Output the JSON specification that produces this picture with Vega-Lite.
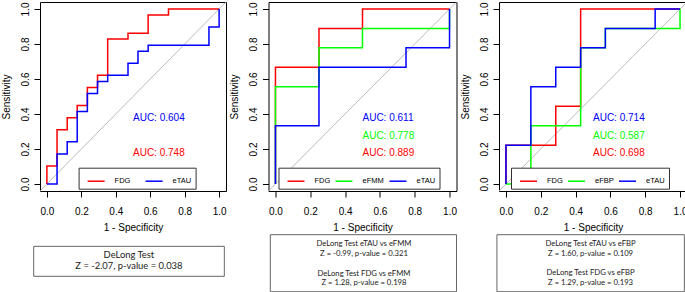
{
  "$schema": "https://vega.github.io/schema/vega-lite/v6.json",
  "background": "white",
  "padding": {"left": 0, "top": 1, "right": 0, "bottom": 0},
  "autosize": {"type": "pad"},
  "config": {
    "font": "Liberation Sans",
    "axis": {"grid": false, "domain": false, "tickColor": "black", "tickSize": 6, "tickWidth": 1, "labelFont": "Liberation Sans", "labelFontSize": 10, "labelColor": "black", "titleFont": "Liberation Sans", "titleFontSize": 10, "titleFontWeight": "normal", "titleColor": "black", "labelFlush": false, "values": [0, 0.2, 0.4, 0.6, 0.8, 1], "format": ".1f"},
    "axisX": {"labelPadding": 9, "titlePadding": 6},
    "axisY": {"labelAngle": 270, "labelAlign": "center", "labelBaseline": "bottom", "labelPadding": 4, "titlePadding": 9},
    "view": {"stroke": "black", "strokeWidth": 1},
    "legend": {"orient": "none", "direction": "horizontal", "title": null, "symbolType": "stroke", "symbolSize": 289, "symbolStrokeWidth": 1.5, "labelFont": "Liberation Sans", "labelFontSize": 7.5, "labelColor": "black", "labelOffset": 9, "columnPadding": 6, "padding": 4, "symbolOffset": 4, "strokeColor": "#333333", "fillColor": "white", "gridAlign": "each"}
  },
  "datasets": {
    "roc1": [
      {"test": "FDG", "fpr": 0, "tpr": 0}, {"test": "FDG", "fpr": 0, "tpr": 0.103}, {"test": "FDG", "fpr": 0.059, "tpr": 0.103}, {"test": "FDG", "fpr": 0.059, "tpr": 0.31}, {"test": "FDG", "fpr": 0.118, "tpr": 0.31}, {"test": "FDG", "fpr": 0.118, "tpr": 0.379}, {"test": "FDG", "fpr": 0.176, "tpr": 0.379}, {"test": "FDG", "fpr": 0.176, "tpr": 0.448}, {"test": "FDG", "fpr": 0.235, "tpr": 0.448}, {"test": "FDG", "fpr": 0.235, "tpr": 0.552}, {"test": "FDG", "fpr": 0.294, "tpr": 0.552}, {"test": "FDG", "fpr": 0.294, "tpr": 0.621}, {"test": "FDG", "fpr": 0.353, "tpr": 0.621}, {"test": "FDG", "fpr": 0.353, "tpr": 0.828}, {"test": "FDG", "fpr": 0.471, "tpr": 0.828}, {"test": "FDG", "fpr": 0.471, "tpr": 0.862}, {"test": "FDG", "fpr": 0.588, "tpr": 0.862}, {"test": "FDG", "fpr": 0.588, "tpr": 0.966}, {"test": "FDG", "fpr": 0.706, "tpr": 0.966}, {"test": "FDG", "fpr": 0.706, "tpr": 1}, {"test": "FDG", "fpr": 1, "tpr": 1},
      {"test": "eTAU", "fpr": 0, "tpr": 0}, {"test": "eTAU", "fpr": 0.059, "tpr": 0}, {"test": "eTAU", "fpr": 0.059, "tpr": 0.172}, {"test": "eTAU", "fpr": 0.118, "tpr": 0.172}, {"test": "eTAU", "fpr": 0.118, "tpr": 0.241}, {"test": "eTAU", "fpr": 0.176, "tpr": 0.241}, {"test": "eTAU", "fpr": 0.176, "tpr": 0.414}, {"test": "eTAU", "fpr": 0.235, "tpr": 0.414}, {"test": "eTAU", "fpr": 0.235, "tpr": 0.517}, {"test": "eTAU", "fpr": 0.294, "tpr": 0.517}, {"test": "eTAU", "fpr": 0.294, "tpr": 0.586}, {"test": "eTAU", "fpr": 0.353, "tpr": 0.586}, {"test": "eTAU", "fpr": 0.353, "tpr": 0.621}, {"test": "eTAU", "fpr": 0.471, "tpr": 0.621}, {"test": "eTAU", "fpr": 0.471, "tpr": 0.69}, {"test": "eTAU", "fpr": 0.529, "tpr": 0.69}, {"test": "eTAU", "fpr": 0.529, "tpr": 0.759}, {"test": "eTAU", "fpr": 0.588, "tpr": 0.759}, {"test": "eTAU", "fpr": 0.588, "tpr": 0.793}, {"test": "eTAU", "fpr": 0.941, "tpr": 0.793}, {"test": "eTAU", "fpr": 0.941, "tpr": 0.897}, {"test": "eTAU", "fpr": 1, "tpr": 0.897}, {"test": "eTAU", "fpr": 1, "tpr": 1}
    ],
    "roc2": [
      {"test": "FDG", "fpr": 0, "tpr": 0}, {"test": "FDG", "fpr": 0, "tpr": 0.667}, {"test": "FDG", "fpr": 0.25, "tpr": 0.667}, {"test": "FDG", "fpr": 0.25, "tpr": 0.889}, {"test": "FDG", "fpr": 0.5, "tpr": 0.889}, {"test": "FDG", "fpr": 0.5, "tpr": 1}, {"test": "FDG", "fpr": 1, "tpr": 1},
      {"test": "eFMM", "fpr": 0, "tpr": 0}, {"test": "eFMM", "fpr": 0, "tpr": 0.556}, {"test": "eFMM", "fpr": 0.25, "tpr": 0.556}, {"test": "eFMM", "fpr": 0.25, "tpr": 0.778}, {"test": "eFMM", "fpr": 0.5, "tpr": 0.778}, {"test": "eFMM", "fpr": 0.5, "tpr": 0.889}, {"test": "eFMM", "fpr": 1, "tpr": 0.889}, {"test": "eFMM", "fpr": 1, "tpr": 1},
      {"test": "eTAU", "fpr": 0, "tpr": 0}, {"test": "eTAU", "fpr": 0, "tpr": 0.333}, {"test": "eTAU", "fpr": 0.25, "tpr": 0.333}, {"test": "eTAU", "fpr": 0.25, "tpr": 0.667}, {"test": "eTAU", "fpr": 0.75, "tpr": 0.667}, {"test": "eTAU", "fpr": 0.75, "tpr": 0.778}, {"test": "eTAU", "fpr": 1, "tpr": 0.778}, {"test": "eTAU", "fpr": 1, "tpr": 1}
    ],
    "roc3": [
      {"test": "FDG", "fpr": 0, "tpr": 0}, {"test": "FDG", "fpr": 0, "tpr": 0.222}, {"test": "FDG", "fpr": 0.286, "tpr": 0.222}, {"test": "FDG", "fpr": 0.286, "tpr": 0.444}, {"test": "FDG", "fpr": 0.429, "tpr": 0.444}, {"test": "FDG", "fpr": 0.429, "tpr": 1}, {"test": "FDG", "fpr": 1, "tpr": 1},
      {"test": "eFBP", "fpr": 0, "tpr": 0}, {"test": "eFBP", "fpr": 0.143, "tpr": 0}, {"test": "eFBP", "fpr": 0.143, "tpr": 0.333}, {"test": "eFBP", "fpr": 0.429, "tpr": 0.333}, {"test": "eFBP", "fpr": 0.429, "tpr": 0.778}, {"test": "eFBP", "fpr": 0.571, "tpr": 0.778}, {"test": "eFBP", "fpr": 0.571, "tpr": 0.889}, {"test": "eFBP", "fpr": 1, "tpr": 0.889}, {"test": "eFBP", "fpr": 1, "tpr": 1},
      {"test": "eTAU", "fpr": 0, "tpr": 0}, {"test": "eTAU", "fpr": 0, "tpr": 0.222}, {"test": "eTAU", "fpr": 0.143, "tpr": 0.222}, {"test": "eTAU", "fpr": 0.143, "tpr": 0.556}, {"test": "eTAU", "fpr": 0.286, "tpr": 0.556}, {"test": "eTAU", "fpr": 0.286, "tpr": 0.667}, {"test": "eTAU", "fpr": 0.429, "tpr": 0.667}, {"test": "eTAU", "fpr": 0.429, "tpr": 0.778}, {"test": "eTAU", "fpr": 0.571, "tpr": 0.778}, {"test": "eTAU", "fpr": 0.571, "tpr": 0.889}, {"test": "eTAU", "fpr": 0.857, "tpr": 0.889}, {"test": "eTAU", "fpr": 0.857, "tpr": 1}, {"test": "eTAU", "fpr": 1, "tpr": 1}
    ]
  },
  "columns": 3,
  "bounds": "flush",
  "spacing": {"column": 42.5, "row": 43.7},
  "resolve": {"scale": {"color": "independent"}, "legend": {"color": "independent"}},
  "concat": [
    {
      "width": 186, "height": 189,
      "layer": [
        {"data": {"values": [{}]}, "mark": {"type": "rule", "color": "#A9A9A9", "strokeWidth": 0.8}, "encoding": {"x": {"datum": -0.04, "type": "quantitative", "scale": {"domain": [-0.04, 1.04], "nice": false, "zero": false}, "title": "1 - Specificity"}, "y": {"datum": -0.04, "type": "quantitative", "scale": {"domain": [-0.04, 1.04], "nice": false, "zero": false}, "title": "Sensitivity"}, "x2": {"datum": 1.04}, "y2": {"datum": 1.04}}},
        {"data": {"name": "roc1"}, "mark": {"type": "line", "strokeWidth": 1.5}, "encoding": {"x": {"field": "fpr", "type": "quantitative", "scale": {"domain": [-0.04, 1.04], "nice": false, "zero": false}, "title": "1 - Specificity"}, "y": {"field": "tpr", "type": "quantitative", "scale": {"domain": [-0.04, 1.04], "nice": false, "zero": false}, "title": "Sensitivity"}, "order": [{"field": "fpr"}, {"field": "tpr"}], "color": {"field": "test", "type": "nominal", "scale": {"domain": ["FDG", "eTAU"], "range": ["#FF0000", "#0000FF"]}, "legend": {"legendX": 38.6, "legendY": 165.7, "columnPadding": 10}}}},
        {"data": {"values": [{"test": "eTAU", "label": "AUC: 0.604"}]}, "mark": {"type": "text", "align": "left", "baseline": "middle", "fontSize": 10, "font": "Liberation Sans"}, "encoding": {"x": {"datum": 0.5, "type": "quantitative"}, "y": {"datum": 0.375, "type": "quantitative"}, "text": {"field": "label"}, "color": {"field": "test", "type": "nominal"}}},
        {"data": {"values": [{"test": "FDG", "label": "AUC: 0.748"}]}, "mark": {"type": "text", "align": "left", "baseline": "middle", "fontSize": 10, "font": "Liberation Sans"}, "encoding": {"x": {"datum": 0.5, "type": "quantitative"}, "y": {"datum": 0.175, "type": "quantitative"}, "text": {"field": "label"}, "color": {"field": "test", "type": "nominal"}}}
      ]
    },
    {
      "width": 188, "height": 189,
      "layer": [
        {"data": {"values": [{}]}, "mark": {"type": "rule", "color": "#A9A9A9", "strokeWidth": 0.8}, "encoding": {"x": {"datum": -0.04, "type": "quantitative", "scale": {"domain": [-0.04, 1.04], "nice": false, "zero": false}, "title": "1 - Specificity"}, "y": {"datum": -0.04, "type": "quantitative", "scale": {"domain": [-0.04, 1.04], "nice": false, "zero": false}, "title": "Sensitivity"}, "x2": {"datum": 1.04}, "y2": {"datum": 1.04}}},
        {"data": {"name": "roc2"}, "mark": {"type": "line", "strokeWidth": 1.5}, "encoding": {"x": {"field": "fpr", "type": "quantitative", "scale": {"domain": [-0.04, 1.04], "nice": false, "zero": false}, "title": "1 - Specificity"}, "y": {"field": "tpr", "type": "quantitative", "scale": {"domain": [-0.04, 1.04], "nice": false, "zero": false}, "title": "Sensitivity"}, "order": [{"field": "fpr"}, {"field": "tpr"}], "color": {"field": "test", "type": "nominal", "scale": {"domain": ["FDG", "eFMM", "eTAU"], "range": ["#FF0000", "#00FF00", "#0000FF"]}, "legend": {"legendX": 10, "legendY": 165.7, "columnPadding": 0}}}},
        {"data": {"values": [{"test": "eTAU", "label": "AUC: 0.611"}]}, "mark": {"type": "text", "align": "left", "baseline": "middle", "fontSize": 10, "font": "Liberation Sans"}, "encoding": {"x": {"datum": 0.5, "type": "quantitative"}, "y": {"datum": 0.375, "type": "quantitative"}, "text": {"field": "label"}, "color": {"field": "test", "type": "nominal"}}},
        {"data": {"values": [{"test": "eFMM", "label": "AUC: 0.778"}]}, "mark": {"type": "text", "align": "left", "baseline": "middle", "fontSize": 10, "font": "Liberation Sans"}, "encoding": {"x": {"datum": 0.5, "type": "quantitative"}, "y": {"datum": 0.275, "type": "quantitative"}, "text": {"field": "label"}, "color": {"field": "test", "type": "nominal"}}},
        {"data": {"values": [{"test": "FDG", "label": "AUC: 0.889"}]}, "mark": {"type": "text", "align": "left", "baseline": "middle", "fontSize": 10, "font": "Liberation Sans"}, "encoding": {"x": {"datum": 0.5, "type": "quantitative"}, "y": {"datum": 0.175, "type": "quantitative"}, "text": {"field": "label"}, "color": {"field": "test", "type": "nominal"}}}
      ]
    },
    {
      "width": 188, "height": 189,
      "layer": [
        {"data": {"values": [{}]}, "mark": {"type": "rule", "color": "#A9A9A9", "strokeWidth": 0.8}, "encoding": {"x": {"datum": -0.04, "type": "quantitative", "scale": {"domain": [-0.04, 1.04], "nice": false, "zero": false}, "title": "1 - Specificity"}, "y": {"datum": -0.04, "type": "quantitative", "scale": {"domain": [-0.04, 1.04], "nice": false, "zero": false}, "title": "Sensitivity"}, "x2": {"datum": 1.04}, "y2": {"datum": 1.04}}},
        {"data": {"name": "roc3"}, "mark": {"type": "line", "strokeWidth": 1.5}, "encoding": {"x": {"field": "fpr", "type": "quantitative", "scale": {"domain": [-0.04, 1.04], "nice": false, "zero": false}, "title": "1 - Specificity"}, "y": {"field": "tpr", "type": "quantitative", "scale": {"domain": [-0.04, 1.04], "nice": false, "zero": false}, "title": "Sensitivity"}, "order": [{"field": "fpr"}, {"field": "tpr"}], "color": {"field": "test", "type": "nominal", "scale": {"domain": ["FDG", "eFBP", "eTAU"], "range": ["#FF0000", "#00FF00", "#0000FF"]}, "legend": {"legendX": 12, "legendY": 165.7, "columnPadding": 0}}}},
        {"data": {"values": [{"test": "eTAU", "label": "AUC: 0.714"}]}, "mark": {"type": "text", "align": "left", "baseline": "middle", "fontSize": 10, "font": "Liberation Sans"}, "encoding": {"x": {"datum": 0.5, "type": "quantitative"}, "y": {"datum": 0.375, "type": "quantitative"}, "text": {"field": "label"}, "color": {"field": "test", "type": "nominal"}}},
        {"data": {"values": [{"test": "eFBP", "label": "AUC: 0.587"}]}, "mark": {"type": "text", "align": "left", "baseline": "middle", "fontSize": 10, "font": "Liberation Sans"}, "encoding": {"x": {"datum": 0.5, "type": "quantitative"}, "y": {"datum": 0.275, "type": "quantitative"}, "text": {"field": "label"}, "color": {"field": "test", "type": "nominal"}}},
        {"data": {"values": [{"test": "FDG", "label": "AUC: 0.698"}]}, "mark": {"type": "text", "align": "left", "baseline": "middle", "fontSize": 10, "font": "Liberation Sans"}, "encoding": {"x": {"datum": 0.5, "type": "quantitative"}, "y": {"datum": 0.175, "type": "quantitative"}, "text": {"field": "label"}, "color": {"field": "test", "type": "nominal"}}}
      ]
    },
    {
      "width": 186, "height": 57,
      "view": {"stroke": null},
      "layer": [
        {"data": {"values": [{}]}, "mark": {"type": "rect", "fill": "transparent", "stroke": "#666666", "strokeWidth": 1}, "encoding": {"x": {"datum": -0.034, "type": "quantitative", "scale": {"domain": [0, 1], "nice": false, "zero": false}, "axis": null}, "x2": {"datum": 0.991}, "y": {"datum": 0.27, "type": "quantitative", "scale": {"domain": [0, 1], "nice": false, "zero": false}, "axis": null}, "y2": {"datum": 0.796}}},
        {"data": {"values": [{"lines": ["DeLong Test", "Z = -2.07, p-value = 0.038"]}]}, "mark": {"type": "text", "font": "Lato", "fontSize": 9.4, "lineHeight": 11.3, "align": "center", "baseline": "middle", "color": "#222222"}, "encoding": {"text": {"field": "lines"}, "x": {"datum": 0.478, "type": "quantitative", "scale": {"domain": [0, 1], "nice": false, "zero": false}, "axis": null}, "y": {"datum": 0.644, "type": "quantitative", "scale": {"domain": [0, 1], "nice": false, "zero": false}, "axis": null}}}
      ]
    },
    {
      "width": 188, "height": 57,
      "view": {"stroke": null},
      "layer": [
        {"data": {"values": [{}]}, "mark": {"type": "rect", "fill": "transparent", "stroke": "#666666", "strokeWidth": 1}, "encoding": {"x": {"datum": 0.0096, "type": "quantitative", "scale": {"domain": [0, 1], "nice": false, "zero": false}, "axis": null}, "x2": {"datum": 1.0}, "y": {"datum": 0, "type": "quantitative", "scale": {"domain": [0, 1], "nice": false, "zero": false}, "axis": null}, "y2": {"datum": 1}}},
        {"data": {"values": [{"lines": ["DeLong Test eTAU vs eFMM", "Z = -0.99, p-value = 0.321"]}]}, "mark": {"type": "text", "font": "Lato", "fontSize": 7.7, "lineHeight": 9.8, "align": "center", "baseline": "middle", "color": "#222222"}, "encoding": {"text": {"field": "lines"}, "x": {"datum": 0.508, "type": "quantitative", "scale": {"domain": [0, 1], "nice": false, "zero": false}, "axis": null}, "y": {"datum": 0.837, "type": "quantitative", "scale": {"domain": [0, 1], "nice": false, "zero": false}, "axis": null}}},
        {"data": {"values": [{"lines": ["DeLong Test FDG vs eFMM", "Z = 1.28, p-value = 0.198"]}]}, "mark": {"type": "text", "font": "Lato", "fontSize": 7.7, "lineHeight": 9.8, "align": "center", "baseline": "middle", "color": "#222222"}, "encoding": {"text": {"field": "lines"}, "x": {"datum": 0.508, "type": "quantitative", "scale": {"domain": [0, 1], "nice": false, "zero": false}, "axis": null}, "y": {"datum": 0.319, "type": "quantitative", "scale": {"domain": [0, 1], "nice": false, "zero": false}, "axis": null}}}
      ]
    },
    {
      "width": 188, "height": 57,
      "view": {"stroke": null},
      "layer": [
        {"data": {"values": [{}]}, "mark": {"type": "rect", "fill": "transparent", "stroke": "#666666", "strokeWidth": 1}, "encoding": {"x": {"datum": -0.011, "type": "quantitative", "scale": {"domain": [0, 1], "nice": false, "zero": false}, "axis": null}, "x2": {"datum": 0.986}, "y": {"datum": 0, "type": "quantitative", "scale": {"domain": [0, 1], "nice": false, "zero": false}, "axis": null}, "y2": {"datum": 1}}},
        {"data": {"values": [{"lines": ["DeLong Test eTAU vs eFBP", "Z = 1.60,  p-value = 0.109"]}]}, "mark": {"type": "text", "font": "Lato", "fontSize": 7.7, "lineHeight": 9.8, "align": "center", "baseline": "middle", "color": "#222222"}, "encoding": {"text": {"field": "lines"}, "x": {"datum": 0.487, "type": "quantitative", "scale": {"domain": [0, 1], "nice": false, "zero": false}, "axis": null}, "y": {"datum": 0.837, "type": "quantitative", "scale": {"domain": [0, 1], "nice": false, "zero": false}, "axis": null}}},
        {"data": {"values": [{"lines": ["DeLong Test FDG vs eFBP", "Z = 1.29,  p-value = 0.193"]}]}, "mark": {"type": "text", "font": "Lato", "fontSize": 7.7, "lineHeight": 9.8, "align": "center", "baseline": "middle", "color": "#222222"}, "encoding": {"text": {"field": "lines"}, "x": {"datum": 0.487, "type": "quantitative", "scale": {"domain": [0, 1], "nice": false, "zero": false}, "axis": null}, "y": {"datum": 0.323, "type": "quantitative", "scale": {"domain": [0, 1], "nice": false, "zero": false}, "axis": null}}}
      ]
    }
  ]
}
